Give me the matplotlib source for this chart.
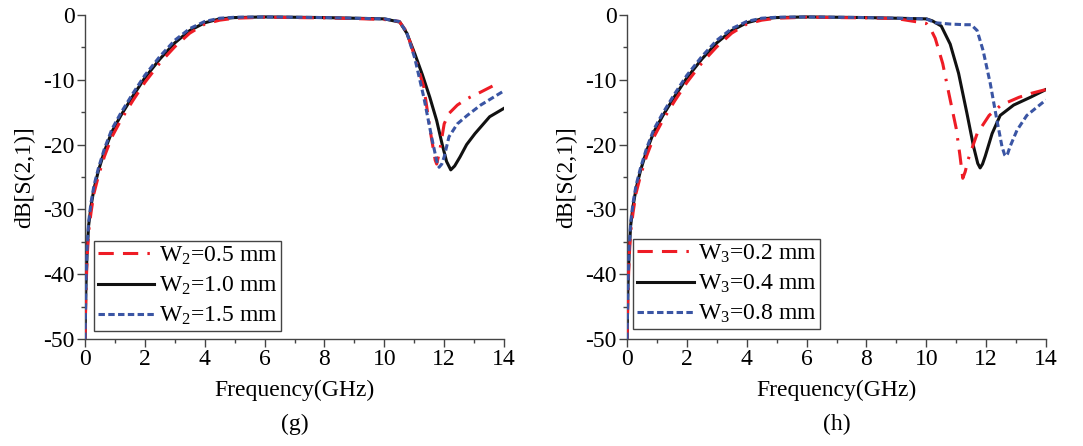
import numpy as np
import matplotlib
matplotlib.use('Agg')
import matplotlib.pyplot as plt

plt.rcParams['font.family'] = ['Liberation Serif', 'DejaVu Serif']
plt.rcParams['mathtext.fontset'] = 'custom'
plt.rcParams['mathtext.rm'] = 'Liberation Serif'
plt.rcParams['mathtext.it'] = 'Liberation Serif'
plt.rcParams['axes.unicode_minus'] = False

# common passband rise (GHz, dB)
f_pass = [0, 0.03, 0.07, 0.12, 0.2, 0.3, 0.45, 0.65, 0.9, 1.2, 1.6, 2.0, 2.5, 3.0, 3.5, 4.0, 4.5, 5.0, 6, 7, 8, 9, 10]
s_pass = [-50, -42, -36.5, -32.5, -29.5, -26.8, -24, -21, -18, -15.5, -12.5, -9.7, -6.8, -4.3, -2.4, -1.2, -0.6, -0.4, -0.3, -0.35, -0.4, -0.5, -0.6]
s_pass_low = [-50, -43, -37.5, -33.5, -30.5, -27.5, -24.8, -21.8, -18.8, -16.2, -13.2, -10.4, -7.4, -4.9, -2.8, -1.4, -0.8, -0.5, -0.35, -0.4, -0.45, -0.55, -0.7]
s_pass_high = [-50, -41.5, -36, -32, -29, -26.3, -23.6, -20.6, -17.6, -15.1, -12.1, -9.3, -6.4, -3.9, -2.1, -1.0, -0.5, -0.35, -0.3, -0.35, -0.4, -0.5, -0.6]

# (g) stopband, W2 sweep
f_g05 = [10.5, 10.75, 11.02, 11.32, 11.55, 11.7, 11.75, 11.85, 12.0, 12.16, 12.44, 12.77, 13.22, 13.77]
s_g05 = [-1.0, -2.6, -6.5, -11.1, -18.3, -22.4, -23.0, -21.0, -16.8, -15.2, -13.9, -12.9, -11.9, -10.6]
f_g10 = [10.52, 10.75, 11.02, 11.27, 11.52, 11.75, 11.93, 12.08, 12.22, 12.35, 12.53, 12.75, 13.03, 13.52, 14.0]
s_g10 = [-1.1, -2.8, -6.0, -9.2, -12.7, -16.3, -19.9, -22.6, -23.9, -23.3, -21.9, -20.0, -18.3, -15.7, -14.4]
f_g15 = [10.5, 10.75, 11.02, 11.32, 11.6, 11.75, 11.83, 11.92, 12.0, 12.16, 12.44, 12.77, 13.22, 14.0]
s_g15 = [-1.0, -2.7, -6.7, -12.7, -19.3, -22.5, -23.5, -23.0, -21.9, -18.8, -16.8, -15.5, -13.9, -11.7]

# (h) stopband, W3 sweep
f_h02 = [10.0, 10.15, 10.3, 10.55, 10.75, 11.0, 11.12, 11.22, 11.3, 11.4, 11.7, 12.1, 12.5, 13.1, 13.5, 14.0]
s_h02 = [-1.3, -2.2, -3.6, -7.5, -12.0, -17.5, -21.5, -25.2, -24.2, -22.3, -18.3, -15.5, -13.9, -12.7, -12.1, -11.5]
f_h04 = [10.2, 10.5, 10.8, 11.08, 11.36, 11.58, 11.72, 11.8, 11.88, 11.97, 12.2, 12.47, 12.92, 13.48, 14.0]
s_h04 = [-0.9, -1.7, -4.5, -9.0, -15.2, -20.3, -22.9, -23.6, -23.0, -21.8, -18.3, -15.5, -13.9, -12.7, -11.5]
f_h08 = [10.3, 10.8, 11.3, 11.5, 11.7, 11.9, 12.14, 12.34, 12.53, 12.62, 12.66, 12.72, 12.8, 13.03, 13.36, 14.0]
s_h08 = [-1.2, -1.4, -1.5, -1.5, -2.4, -5.5, -10.6, -15.7, -20.3, -21.6, -21.8, -21.4, -20.3, -17.8, -15.5, -13.1]

lab_g = [r'W$_\mathrm{2}$=0.5 mm', r'W$_\mathrm{2}$=1.0 mm', r'W$_\mathrm{2}$=1.5 mm']
lab_h = [r'W$_\mathrm{3}$=0.2 mm', r'W$_\mathrm{3}$=0.4 mm', r'W$_\mathrm{3}$=0.8 mm']

red = '#ee1c25'
blue = '#3a55a4'
black = '#111111'
fs = 17


def join(fa, sa, fb, sb):
    n = len([f for f in fa if f < fb[0]])
    return np.array(list(fa[:n]) + list(fb)), np.array(list(sa[:n]) + list(sb))


fig = plt.figure(figsize=(10.83, 4.46), dpi=100)
ax1 = fig.add_axes([0.0785, 0.2399, 0.3869, 0.7265])
ax2 = fig.add_axes([0.579, 0.2399, 0.3868, 0.7265])

panels = [
    (ax1, [join(f_pass, s_pass_low, f_g05, s_g05), join(f_pass, s_pass, f_g10, s_g10),
           join(f_pass, s_pass_high, f_g15, s_g15)], lab_g, '(g)', (0.022, 0.302)),
    (ax2, [join(f_pass, s_pass_low, f_h02, s_h02), join(f_pass, s_pass, f_h04, s_h04),
           join(f_pass, s_pass_high, f_h08, s_h08)], lab_h, '(h)', (0.015, 0.308)),
]

for ax, curves, labs, cap, anchor in panels:
    (fr, sr), (fk, sk), (fb, sb) = curves
    ax.plot(fr, sr, color=red, lw=2.2, dashes=(5, 3, 5, 3, 0.8, 3), label=labs[0], zorder=3)
    ax.plot(fk, sk, color=black, lw=2.2, label=labs[1], zorder=2)
    ax.plot(fb, sb, color=blue, lw=2.2, dashes=(2.1, 1.1), label=labs[2], zorder=4)
    ax.set_xlim(0, 14)
    ax.set_ylim(-50, 0)
    ax.set_xticks(np.arange(0, 15, 2))
    ax.set_xticks(np.arange(1, 14, 2), minor=True)
    ax.set_yticks(np.arange(-50, 1, 10))
    ax.set_yticks(np.arange(-45, 0, 10), minor=True)
    for s in ['top', 'right']:
        ax.spines[s].set_visible(False)
    for s in ['left', 'bottom']:
        ax.spines[s].set_color('#444444')
        ax.spines[s].set_linewidth(1.0)
    ax.tick_params(which='major', direction='out', length=5.5, width=1, colors='#444444',
                   labelcolor='black', labelsize=fs, pad=2)
    ax.tick_params(which='minor', direction='out', length=3, width=1, colors='#444444')
    ax.set_xlabel('Frequency(GHz)', fontsize=fs, labelpad=7)
    ax.set_ylabel('dB[S(2,1)]', fontsize=fs, labelpad=6)
    leg = ax.legend(loc='upper left', bbox_to_anchor=anchor, borderaxespad=0, fontsize=fs,
                    handlelength=2.4, handletextpad=0.2, labelspacing=0.33, borderpad=0.15,
                    fancybox=False, framealpha=1)
    leg.get_frame().set_edgecolor('#444444')
    leg.get_frame().set_linewidth(1.0)
    ax.text(0.5, -0.265, cap, transform=ax.transAxes, ha='center', va='center', fontsize=fs)

fig.savefig('out.png', dpi=100)
